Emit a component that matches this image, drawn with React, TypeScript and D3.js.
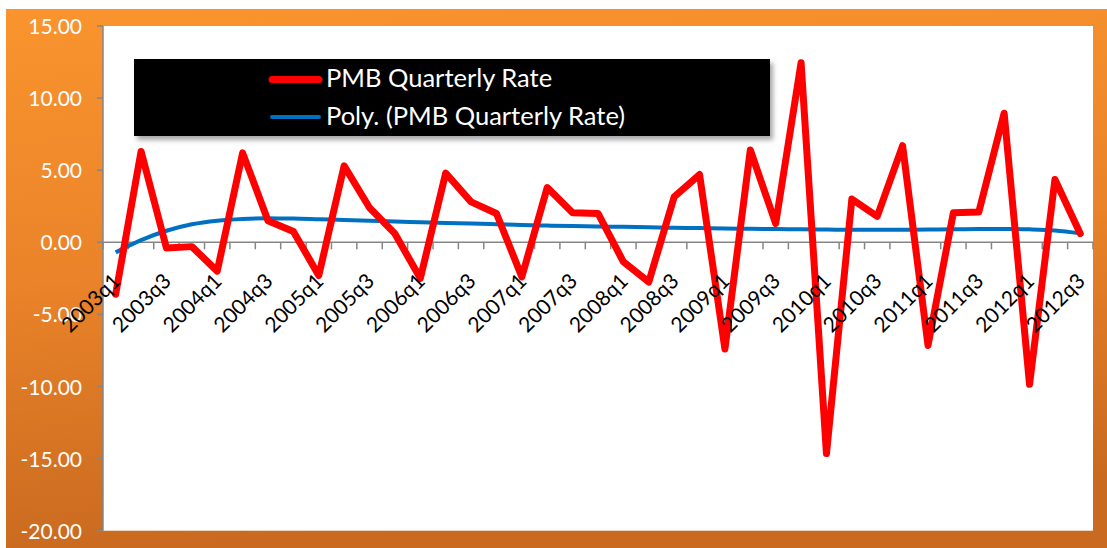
import React from "react";
import * as d3 from "d3";

const categories: string[] = [
  "2003q1","2003q2","2003q3","2003q4",
  "2004q1","2004q2","2004q3","2004q4",
  "2005q1","2005q2","2005q3","2005q4",
  "2006q1","2006q2","2006q3","2006q4",
  "2007q1","2007q2","2007q3","2007q4",
  "2008q1","2008q2","2008q3","2008q4",
  "2009q1","2009q2","2009q3","2009q4",
  "2010q1","2010q2","2010q3","2010q4",
  "2011q1","2011q2","2011q3","2011q4",
  "2012q1","2012q2","2012q3",
];

const rateValues: number[] = [
  -3.6, 6.3, -0.4, -0.3,
  -2.0, 6.2, 1.5, 0.75,
  -2.3, 5.3, 2.4, 0.6,
  -2.5, 4.8, 2.8, 2.0,
  -2.4, 3.8, 2.05, 2.0,
  -1.35, -2.75, 3.15, 4.7,
  -7.4, 6.4, 1.3, 12.45,
  -14.65, 3.0, 1.8, 6.7,
  -7.15, 2.05, 2.1, 8.95,
  -9.85, 4.35, 0.6,
];

const trendValues: number[] = [
  -0.7, 0.15, 0.8, 1.25,
  1.5, 1.62, 1.66, 1.65,
  1.6, 1.55, 1.5, 1.44,
  1.39, 1.34, 1.3, 1.25,
  1.2, 1.16, 1.13, 1.1,
  1.07, 1.04, 1.01, 0.99,
  0.96, 0.94, 0.92, 0.9,
  0.88, 0.87, 0.87, 0.87,
  0.88, 0.9, 0.92, 0.93,
  0.9, 0.82, 0.62,
];

const yTicks: number[] = [15, 10, 5, 0, -5, -10, -15, -20];
const seriesNames: string[] = ["PMB Quarterly Rate", "Poly. (PMB Quarterly Rate)"];

const W = 1107;
const H = 548;
const plot = { left: 103, right: 1093, top: 26, bottom: 530.7 };

export default function App() {
  const x = d3
    .scaleBand<string>()
    .domain(categories)
    .range([plot.left, plot.right])
    .paddingInner(0)
    .paddingOuter(0);
  const y = d3.scaleLinear().domain([-20, 15]).range([plot.bottom, plot.top]);
  const cx = (c: string) => (x(c) as number) + x.bandwidth() / 2;

  const line = d3
    .line<number>()
    .x((_, i) => cx(categories[i]))
    .y((d) => y(d));
  const trendLine = d3
    .line<number>()
    .x((_, i) => cx(categories[i]))
    .y((d) => y(d))
    .curve(d3.curveMonotoneX);

  const y0 = y(0);
  const boundaries = d3.range(categories.length + 1).map(
    (i) => plot.left + i * x.bandwidth()
  );
  const font = "Lato, 'Open Sans', sans-serif";

  return (
    <svg
      width={W}
      height={H}
      style={{ position: "absolute", left: 0, top: 0, display: "block" }}
    >
      <defs>
        <linearGradient id="bg" x1="0" y1="0" x2="0.15" y2="1">
          <stop offset="0" stopColor="#F9942E" />
          <stop offset="0.5" stopColor="#EA8329" />
          <stop offset="1" stopColor="#C96A20" />
        </linearGradient>
        <filter id="shadow" x="-10%" y="-20%" width="130%" height="160%">
          <feDropShadow dx="3" dy="4" stdDeviation="2.5" floodColor="#000" floodOpacity="0.35" />
        </filter>
      </defs>
      <rect x={0} y={0} width={W} height={H} fill="#fff" />
      <rect x={6} y={9} width={W - 6} height={H - 9} fill="url(#bg)" />
      <rect
        x={plot.left}
        y={plot.top}
        width={plot.right - plot.left}
        height={plot.bottom - plot.top}
        fill="#fff"
      />

      {/* Y axis */}
      <line x1={plot.left} x2={plot.left} y1={plot.top} y2={plot.bottom} stroke="#868686" strokeWidth={1.5} />
      {yTicks.map((t) => (
        <g key={t}>
          <line x1={plot.left - 6} x2={plot.left} y1={y(t)} y2={y(t)} stroke="#868686" strokeWidth={1.5} />
          <text
            x={82}
            y={y(t) + 8}
            textAnchor="end"
            fill="#fff"
            fontFamily={font}
            fontSize={21}
          >
            {t.toFixed(2)}
          </text>
        </g>
      ))}

      {/* X axis at 0 */}
      <line x1={plot.left} x2={plot.right} y1={y0} y2={y0} stroke="#868686" strokeWidth={1.5} />
      {boundaries.map((b, i) => (
        <line key={i} x1={b} x2={b} y1={y0} y2={y0 + 7} stroke="#868686" strokeWidth={1.5} />
      ))}

      {/* Trend line */}
      <path d={trendLine(trendValues) || ""} fill="none" stroke="#0070C0" strokeWidth={4} />

      {/* Rate line */}
      <path
        d={line(rateValues) || ""}
        fill="none"
        stroke="#FF0000"
        strokeWidth={7}
        strokeLinejoin="round"
        strokeLinecap="round"
      />

      {/* X labels */}
      {categories.map((c, i) =>
        i % 2 === 0 ? (
          <text
            key={c}
            transform={`translate(${cx(c) + 6},${y0 + 40}) rotate(-45)`}
            textAnchor="end"
            fill="#000"
            fontFamily={font}
            fontSize={21}
          >
            {c}
          </text>
        ) : null
      )}

      {/* Legend */}
      <rect x={134} y={59} width={636} height={77} fill="#000" filter="url(#shadow)" />
      <line x1={272} x2={319} y1={79.5} y2={79.5} stroke="#FF0000" strokeWidth={7} strokeLinecap="round" />
      <text x={326} y={87} fill="#fff" fontFamily={font} fontSize={25.5}>
        {seriesNames[0]}
      </text>
      <line x1={272} x2={319} y1={117} y2={117} stroke="#0070C0" strokeWidth={4} strokeLinecap="round" />
      <text x={326} y={125} fill="#fff" fontFamily={font} fontSize={25.5}>
        {seriesNames[1]}
      </text>
    </svg>
  );
}
